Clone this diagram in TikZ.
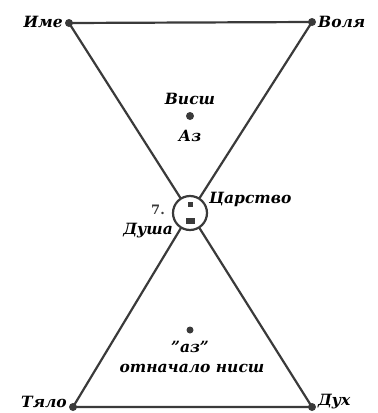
\documentclass[tikz,border=0pt]{standalone}
\usepackage{fontspec}
\setmainfont{DejaVu Serif}
\definecolor{ink}{HTML}{3A3A3A}
\begin{document}
\begin{tikzpicture}[x=1pt,y=-1pt,
  edge/.style={draw=ink,line width=2.2pt,line cap=round},
  lbl/.style={font=\fontsize{15.5}{17}\selectfont\itshape\bfseries,text=black,inner sep=0pt},
  dot/.style={circle,fill=ink,inner sep=0pt,minimum size=8pt}]
\useasboundingbox (0,0) rectangle (378,413);
\node[dot] (ime) at (69,23) {};
\node[dot] (volya) at (312,22) {};
\node[dot] (tyalo) at (73,407) {};
\node[dot] (duh) at (312,407) {};
\coordinate (c) at (190,213);
\draw[edge] (ime.center) -- (volya.center) -- (c) -- (tyalo.center) -- (duh.center) -- (c) -- cycle;
\node[circle,draw=ink,line width=2.2pt,fill=white,minimum size=34pt,inner sep=0pt] (ring) at (c) {};
\node[fill=ink,minimum width=5pt,minimum height=5pt,inner sep=0pt] (d1) at (190,204) {};
\node[fill=ink,minimum width=9pt,minimum height=6pt,inner sep=0pt] (d2) at (190,221) {};
\node[dot] (upper) at (190,116) {};
\node[dot,minimum size=7pt] (lower) at (190,330) {};
\node[lbl,anchor=east] (time) at (63,22) {Име};
\node[lbl,anchor=west] (tvolya) at (318,22) {Воля};
\node[lbl,anchor=east] (ttyalo) at (67,402) {Тяло};
\node[lbl,anchor=west] (tduh) at (318,402) {Дух};
\node[lbl] (visch) at (190,99) {Висш};
\node[lbl] (az) at (190,136) {Аз};
\node[lbl,anchor=west] (carstvo) at (209,199) {Царство};
\node[lbl,anchor=east] (dusha) at (173,231) {Душа};
\node[lbl,text=ink,font=\fontsize{13}{14}\selectfont\bfseries] (seven) at (158,210) {7.};
\node[lbl] (az2) at (190,347) {\symbol{34}аз\symbol{34}};
\node[lbl] (nisch) at (192,368) {отначало нисш};
\end{tikzpicture}
\end{document}
